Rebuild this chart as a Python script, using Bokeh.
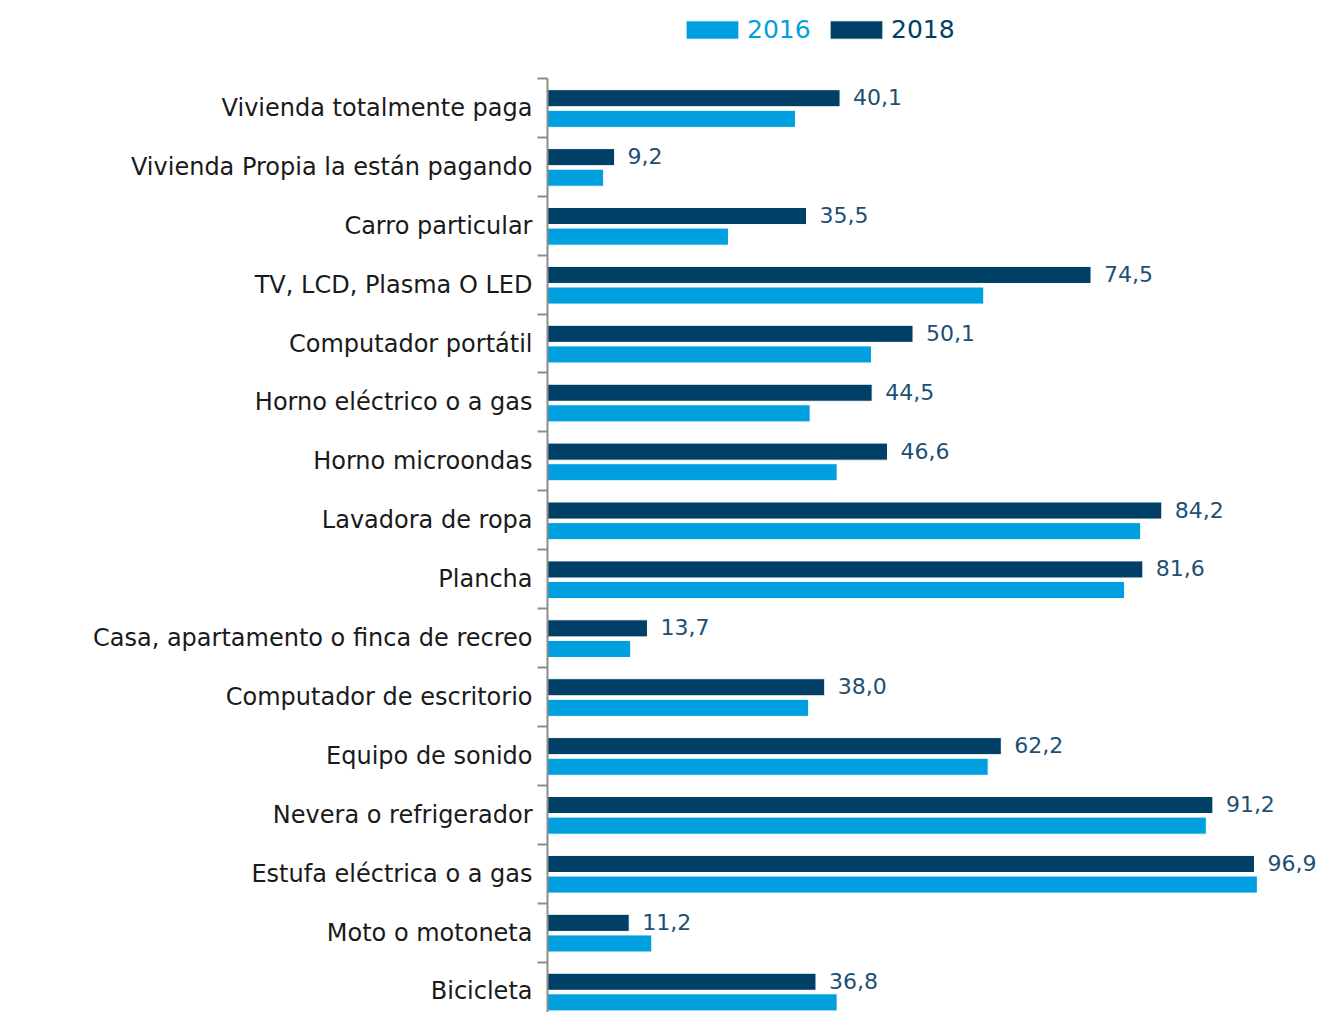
from bokeh.plotting import figure
from bokeh.models import Range1d, FixedTicker, Legend, LegendItem, ColumnDataSource
from bokeh.core.properties import value
from bokeh.embed import file_html
from bokeh.resources import INLINE

categories = [
    "Vivienda totalmente paga",
    "Vivienda Propia la están pagando",
    "Carro particular",
    "TV, LCD, Plasma O LED",
    "Computador portátil",
    "Horno eléctrico o a gas",
    "Horno microondas",
    "Lavadora de ropa",
    "Plancha",
    "Casa, apartamento o finca de recreo",
    "Computador de escritorio",
    "Equipo de sonido",
    "Nevera o refrigerador",
    "Estufa eléctrica o a gas",
    "Moto o motoneta",
    "Bicicleta",
]
v2016 = [34.0, 7.7, 24.8, 59.8, 44.4, 36.0, 39.7, 81.3, 79.1, 11.4, 35.8, 60.4, 90.3, 97.3, 14.3, 39.7]
v2018 = [40.1, 9.2, 35.5, 74.5, 50.1, 44.5, 46.6, 84.2, 81.6, 13.7, 38.0, 62.2, 91.2, 96.9, 11.2, 36.8]
series = ["2016", "2018"]

FONT = "DejaVu Sans"
C16 = "#009FDF"
C18 = "#003F66"
LBL = "#1E4F73"

n = len(categories)
pos = list(range(n))
labels18 = [f"{v:.1f}".replace(".", ",") for v in v2018]

src = ColumnDataSource(dict(
    cat=categories,
    y18=[p - 0.165 for p in pos],
    y16=[p + 0.185 for p in pos],
    v16=v2016,
    v18=v2018,
    lab=labels18,
))

p = figure(
    width=1320, height=1012,
    output_backend="svg", toolbar_location=None,
    x_range=Range1d(0, 105.95),
    y_range=Range1d(15.357, -1.824),
    min_border_left=547, min_border_right=0, min_border_top=0, min_border_bottom=0,
)
p.outline_line_color = None
p.xgrid.visible = False
p.ygrid.visible = False
p.xaxis.visible = False

r18 = p.hbar(y="y18", right="v18", left=0, height=0.29, source=src,
             fill_color=C18, line_color="white", line_width=1)
r16 = p.hbar(y="y16", right="v16", left=0, height=0.29, source=src,
             fill_color=C16, line_color="white", line_width=1)

p.text(x="v18", y="y18", text="lab", source=src, x_offset=13, y_offset=-1,
       text_baseline="middle", text_align="left",
       text_font=value(FONT), text_font_size="22px", text_color=LBL)

ax = p.yaxis[0]
ax.ticker = FixedTicker(ticks=pos, minor_ticks=[q - 0.5 for q in pos] + [n - 0.5])
ax.major_label_overrides = {i: c for i, c in enumerate(categories)}
ax.major_tick_line_color = None
ax.major_tick_out = 0
ax.major_tick_in = 0
ax.minor_tick_out = 10
ax.minor_tick_in = 0
ax.minor_tick_line_color = "#8C8C8C"
ax.minor_tick_line_width = 2
ax.axis_line_color = "#8C8C8C"
ax.axis_line_width = 2
ax.major_label_standoff = 5
ax.major_label_text_font = FONT
ax.major_label_text_font_size = "24px"
ax.major_label_text_color = "#1A1A1A"
ax.bounds = (-0.5, 16)

def mk_legend(item, color, loc):
    lg = Legend(items=[item], location=loc, orientation="horizontal",
                glyph_width=66, glyph_height=23, label_standoff=2,
                label_text_font=FONT, label_text_font_size="25px",
                label_text_color=color, padding=0, margin=0, spacing=0,
                background_fill_alpha=0, border_line_color=None,
                label_height=20)
    return lg

p.add_layout(mk_legend(LegendItem(label=series[0], renderers=[r16]), C16, (132, 968)))
p.add_layout(mk_legend(LegendItem(label=series[1], renderers=[r18]), C18, (276, 968)))

open("out.html", "w").write(file_html(p, INLINE))
